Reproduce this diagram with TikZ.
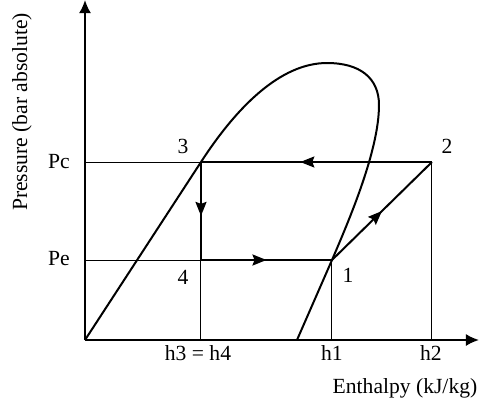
\documentclass[tikz,border=0pt]{standalone}
\usepackage{fontspec}
\setmainfont{Liberation Serif}
\usetikzlibrary{arrows.meta,decorations.markings}
\begin{document}
\begin{tikzpicture}[x=0.5pt,y=-0.5pt,
  thinline/.style={line width=0.5pt},
  thickline/.style={line width=1pt},
  axisline/.style={line width=1pt,-{Latex[length=6.5pt,width=6pt]}},
  midarrow/.style={postaction={decorate},decoration={markings,
     mark=at position #1 with {\arrow{Stealth[length=7pt,width=5.5pt,inset=1pt]}}}},
  lbl/.style={font=\fontsize{10.8}{12}\selectfont, inner sep=0pt}]
\useasboundingbox (0,0) rectangle (479,403);
% key points
\coordinate (O) at (85,340);
\coordinate (Ytop) at (85,0);
\coordinate (Xend) at (479,340);
\coordinate (P3) at (201,162);
\coordinate (P4) at (201,260);
\coordinate (P1) at (332,260);
\coordinate (P2) at (432,162);
\coordinate (Pcax) at (85,162);
\coordinate (Peax) at (85,260);
\coordinate (H34) at (201,340);
\coordinate (H1) at (332,340);
\coordinate (H2) at (432,340);
\coordinate (Top) at (327,63);
\coordinate (Rmost) at (379,105);
\coordinate (Foot) at (297,340);
% axes
\draw[axisline] (O) -- (Ytop);
\draw[axisline] (O) -- (Xend);
% thin guide lines
\draw[thinline] (Pcax) -- (P3);
\draw[thinline] (Peax) -- (P4);
\draw[thinline] (P4) -- (H34);
\draw[thinline] (P1) -- (H1);
\draw[thinline] (P2) -- (H2);
% vapour dome
\draw[thickline, line join=round] (O) -- (P3)
  .. controls (236,108) and (280,63) .. (Top)
  .. controls (360,63) and (379,78) .. (Rmost)
  .. controls (379,150) and (350,218) .. (P1)
  -- (Foot);
% cycle
\draw[thickline, midarrow=0.57] (P2) -- (P3);
\draw[thickline, midarrow=0.55] (P3) -- (P4);
\draw[thickline, midarrow=0.5] (P4) -- (P1);
\draw[thickline, midarrow=0.5] (P1) -- (P2);
% labels
\node[lbl] (lPc) at (59,162) {Pc};
\node[lbl] (lPe) at (59,259) {Pe};
\node[lbl] (l3) at (183,146) {3};
\node[lbl] (l4) at (183,277) {4};
\node[lbl] (l2) at (447,146) {2};
\node[lbl] (l1) at (348,275) {1};
\node[lbl] (lh34) at (198,353) {h3 = h4};
\node[lbl] (lh1) at (332,353) {h1};
\node[lbl] (lh2) at (431,353) {h2};
\node[lbl] (lx) at (405,388) {Enthalpy (kJ/kg)};
\node[lbl, rotate=90] (ly) at (22,112) {Pressure (bar absolute)};
\end{tikzpicture}
\end{document}
